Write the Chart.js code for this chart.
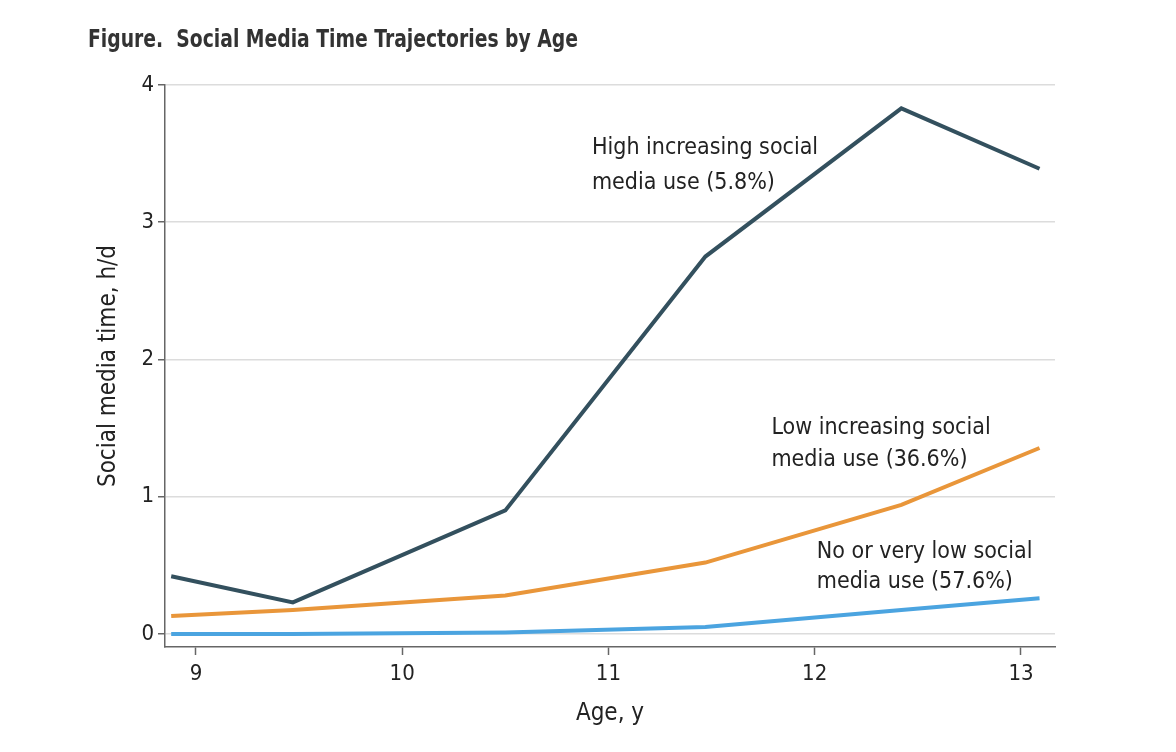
<!DOCTYPE html>
<html>
<head>
<meta charset="utf-8">
<script src="https://cdn.jsdelivr.net/npm/chart.js@4/dist/chart.umd.min.js"></script>
<style>
  html, body { margin: 0; padding: 0; background: #fff; }
  #wrap { position: relative; width: 1176px; height: 752px; }
</style>
</head>
<body>
<div id="wrap"><canvas id="trajChart" width="1176" height="752"></canvas></div>
<script>
// ages at each survey wave (years)
var ages = [8.88, 9.47, 10.5, 11.47, 12.42, 13.09];
// social media time, h/d, per trajectory group
var highUse = [0.42, 0.23, 0.90, 2.75, 3.83, 3.39];
var lowUse = [0.13, 0.175, 0.28, 0.52, 0.94, 1.355];
var veryLowUse = [0.0, 0.0, 0.01, 0.05, 0.175, 0.26];
var xTicks = [9, 10, 11, 12, 13];
var yTicks = [0, 1, 2, 3, 4];

var groupLabels = [
  { lines: ['High increasing social', 'media use (5.8%)'], x: 10.92, y: [3.54, 3.285] },
  { lines: ['Low increasing social', 'media use (36.6%)'], x: 11.79, y: [1.50, 1.265] },
  { lines: ['No or very low social', 'media use (57.6%)'], x: 12.01, y: [0.60, 0.38] }
];

function pts(vals) {
  return vals.map(function(v, i) { return { x: ages[i], y: v }; });
}

var FONT = '"DejaVu Sans Condensed", "Liberation Sans", sans-serif';

// title and line labels drawn on top
var textPlugin = {
  id: 'textPlugin',
  afterDraw: function(chart) {
    var c = chart.ctx, xs = chart.scales.x, ys = chart.scales.y;
    var title = 'Figure.  Social Media Time Trajectories by Age';
    c.save();
    c.fillStyle = '#333';
    c.font = 'bold 24px ' + FONT;
    c.textBaseline = 'alphabetic';
    c.textAlign = 'left';
    var w = c.measureText(title).width;
    c.translate(88, 47);
    c.scale(490 / w, 1);
    c.fillText(title, 0, 0);
    c.restore();

    c.save();
    c.fillStyle = '#222';
    c.font = '23px ' + FONT;
    c.textBaseline = 'middle';
    c.textAlign = 'left';
    groupLabels.forEach(function(g) {
      g.lines.forEach(function(t, i) {
        c.fillText(t, xs.getPixelForValue(g.x), ys.getPixelForValue(g.y[i]));
      });
    });
    c.restore();
  }
};

var ctx = document.getElementById('trajChart').getContext('2d');
var trajChart = new Chart(ctx, {
  type: 'scatter',
  data: {
    datasets: [
      { label: 'High', data: pts(highUse), borderColor: '#33505e' },
      { label: 'Low', data: pts(lowUse), borderColor: '#e9963a' },
      { label: 'Very low', data: pts(veryLowUse), borderColor: '#4ba4e0' }
    ].map(function(d) {
      d.showLine = true; d.borderWidth = 4; d.pointRadius = 0; d.tension = 0;
      d.borderJoinStyle = 'miter'; d.fill = false;
      return d;
    })
  },
  plugins: [textPlugin],
  options: {
    responsive: false,
    animation: false,
    layout: { padding: { top: 85, right: 121, bottom: 20, left: 90 } },
    plugins: { legend: { display: false }, tooltip: { enabled: false } },
    scales: {
      x: {
        type: 'linear', min: 8.85, max: 13.165,
        afterBuildTicks: function(s) { s.ticks = xTicks.map(function(v) { return { value: v }; }); },
        afterFit: function(s) { s.height = 85; },
        border: { color: '#666', width: 1.5 },
        grid: { drawOnChartArea: false, drawTicks: true, tickLength: 8, tickColor: '#666', tickWidth: 1.5 },
        ticks: { color: '#222', font: { family: FONT, size: 22 }, padding: 6, maxRotation: 0 },
        title: { display: true, text: 'Age, y', color: '#222', font: { family: FONT, size: 24 } }
      },
      y: {
        type: 'linear', min: -0.095, max: 4,
        afterBuildTicks: function(s) { s.ticks = yTicks.map(function(v) { return { value: v }; }); },
        afterFit: function(s) { s.width = 75; },
        border: { color: '#666', width: 1.5 },
        grid: { color: '#dcdcdc', lineWidth: 1.5, drawTicks: true, tickLength: 7, tickColor: '#666', tickWidth: 1.5 },
        ticks: { color: '#222', font: { family: FONT, size: 22 }, padding: 4 },
        title: { display: true, text: 'Social media time, h/d', color: '#222', font: { family: FONT, size: 24 } }
      }
    }
  }
});
</script>
</body>
</html>
